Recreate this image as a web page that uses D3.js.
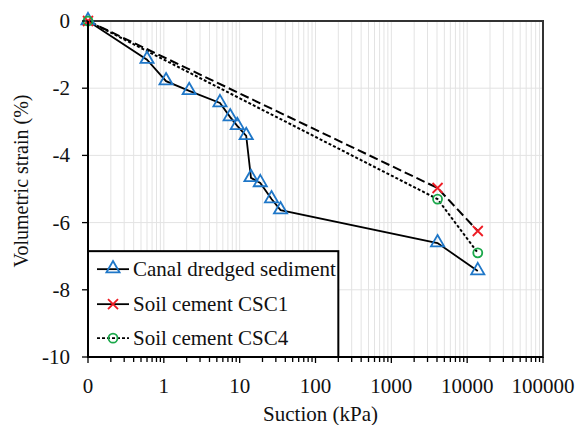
<!DOCTYPE html>
<meta charset="utf-8">
<script src="https://d3js.org/d3.v7.min.js"></script>
<body style="margin:0">
<script>

// suction (kPa); 0.1 stands for the "0" point on the log axis
var canalSuction = [0.1, 0.6, 1.07, 2.16, 5.5, 7.5, 9.3, 12.2, 14.1, 18.7, 26.3, 34.6, 4070, 13800];
var canalStrain  = [0, -1.15, -1.79, -2.08, -2.44, -2.86, -3.12, -3.42, -4.67, -4.82, -5.3, -5.63, -6.61, -7.44];

var csc1Suction = [0.1, 4070, 13800];
var csc1Strain  = [0, -4.97, -6.25];

var csc4Suction = [0.1, 4070, 13800];
var csc4Strain  = [0, -5.3, -6.9];

var xTicks = [0.1, 1, 10, 100, 1000, 10000, 100000];
var xTickLabels = ["0", "1", "10", "100", "1000", "10000", "100000"];
var yTicks = [0, -2, -4, -6, -8, -10];

var serif = "Times New Roman";

var margin = {top: 21, right: 35, bottom: 68, left: 88},
    width = 578 - margin.left - margin.right,
    height = 425 - margin.top - margin.bottom;

var root = d3.select("body")
  .append("svg")
    .attr("width", 578)
    .attr("height", 425);
var svg = root.append("g")
    .attr("transform", "translate(" + margin.left + "," + margin.top + ")");

var x = d3.scaleLog().domain([0.1, 100000]).range([0, width]);
var y = d3.scaleLinear().domain([-10, 0]).range([height, 0]);

// minor + major vertical gridlines
var minorTicks = [];
for (var e = -1; e < 5; e++) {
  for (var m = 1; m <= 9; m++) minorTicks.push(m * Math.pow(10, e));
}
minorTicks.push(100000);

svg.append("g").selectAll("line.vgrid")
  .data(minorTicks)
  .enter().append("line")
    .attr("x1", function(d) { return x(d); })
    .attr("x2", function(d) { return x(d); })
    .attr("y1", 0).attr("y2", height)
    .attr("stroke", "#e3e3e3")
    .attr("stroke-width", 1);

svg.append("g").selectAll("line.hgrid")
  .data(yTicks)
  .enter().append("line")
    .attr("x1", 0).attr("x2", width)
    .attr("y1", function(d) { return y(d); })
    .attr("y2", function(d) { return y(d); })
    .attr("stroke", "#e3e3e3")
    .attr("stroke-width", 1);

// plot frame
svg.append("rect")
  .attr("width", width).attr("height", height)
  .attr("fill", "none")
  .attr("stroke", "#333")
  .attr("stroke-width", 2);

// lines
var line = function(xs, ys) {
  return d3.line()
    .x(function(d) { return x(d[0]); })
    .y(function(d) { return y(d[1]); })(d3.zip(xs, ys));
};

svg.append("path")
  .attr("d", line(csc1Suction, csc1Strain))
  .attr("fill", "none").attr("stroke", "#000")
  .attr("stroke-width", 2)
  .attr("stroke-dasharray", "9,4");

svg.append("path")
  .attr("d", line(csc4Suction, csc4Strain))
  .attr("fill", "none").attr("stroke", "#000")
  .attr("stroke-width", 2)
  .attr("stroke-dasharray", "3,2");

svg.append("path")
  .attr("d", line(canalSuction, canalStrain))
  .attr("fill", "none").attr("stroke", "#000")
  .attr("stroke-width", 1.8);

// markers
var tri = d3.symbol().type(d3.symbolTriangle).size(75);

function triangles(g, xs, ys) {
  g.selectAll("path.tri")
    .data(d3.zip(xs, ys))
    .enter().append("path")
      .attr("transform", function(d) { return "translate(" + x(d[0]) + "," + (y(d[1]) - 0.5) + ")"; })
      .attr("d", tri)
      .attr("fill", "none")
      .attr("stroke", "#1f77c8")
      .attr("stroke-width", 1.8);
}
function crosses(g, xs, ys) {
  g.selectAll("path.cross")
    .data(d3.zip(xs, ys))
    .enter().append("path")
      .attr("transform", function(d) { return "translate(" + x(d[0]) + "," + y(d[1]) + ")"; })
      .attr("d", "M-5,-5L5,5M-5,5L5,-5")
      .attr("stroke", "#ee1c24")
      .attr("stroke-width", 1.8);
}
function circles(g, xs, ys) {
  g.selectAll("circle")
    .data(d3.zip(xs, ys))
    .enter().append("circle")
      .attr("cx", function(d) { return x(d[0]); })
      .attr("cy", function(d) { return y(d[1]); })
      .attr("r", 4.5)
      .attr("fill", "none")
      .attr("stroke", "#1aa84a")
      .attr("stroke-width", 1.8);
}

triangles(svg.append("g"), canalSuction, canalStrain);
crosses(svg.append("g"), csc1Suction, csc1Strain);
circles(svg.append("g"), csc4Suction, csc4Strain);

// legend box
var lg = svg.append("g").attr("transform", "translate(0," + y(-6.85) + ")");
var lgW = x(200), lgH = height - y(-6.85);
lg.append("rect")
  .attr("width", lgW).attr("height", lgH)
  .attr("fill", "#fff")
  .attr("stroke", "#000").attr("stroke-width", 2);

var legendNames = ["Canal dredged sediment", "Soil cement CSC1", "Soil cement CSC4"];
var legendY = [18, 53, 87];
legendNames.forEach(function(name, i) {
  var row = lg.append("g").attr("transform", "translate(0," + legendY[i] + ")");
  row.append("line")
    .attr("x1", 9).attr("x2", 41).attr("y1", 0).attr("y2", 0)
    .attr("stroke", "#000").attr("stroke-width", 1.8)
    .attr("stroke-dasharray", i === 2 ? "3,2" : null);
  if (i === 0) {
    row.append("path").attr("transform", "translate(25,-0.5)").attr("d", tri)
      .attr("fill", "none").attr("stroke", "#1f77c8").attr("stroke-width", 1.8);
  } else if (i === 1) {
    row.append("path").attr("transform", "translate(25,0)").attr("d", "M-5,-5L5,5M-5,5L5,-5")
      .attr("stroke", "#ee1c24").attr("stroke-width", 1.8);
  } else {
    row.append("circle").attr("cx", 25).attr("cy", 0).attr("r", 4.5)
      .attr("fill", "none").attr("stroke", "#1aa84a").attr("stroke-width", 1.8);
  }
  row.append("text")
    .attr("x", 45).attr("y", 7)
    .attr("font-family", serif)
    .attr("font-size", 21)
    .attr("fill", "#111")
    .text(name);
});

// X axis with minor ticks
var xAxis = svg.append("g").attr("transform", "translate(0," + height + ")");
xAxis.append("line").attr("x1", 0).attr("x2", width).attr("stroke", "#000").attr("stroke-width", 2);
xAxis.selectAll("line.minor")
  .data(minorTicks)
  .enter().append("line")
    .attr("x1", function(d) { return x(d); })
    .attr("x2", function(d) { return x(d); })
    .attr("y1", 0)
    .attr("y2", function(d) { return xTicks.indexOf(d) >= 0 ? 6 : 5; })
    .attr("stroke", "#000").attr("stroke-width", 1.3);
xAxis.selectAll("text.xl")
  .data(xTicks)
  .enter().append("text")
    .attr("x", function(d) { return x(d); })
    .attr("y", 36)
    .attr("text-anchor", "middle")
    .attr("font-family", serif)
    .attr("font-size", 21)
    .attr("fill", "#111")
    .text(function(d, i) { return xTickLabels[i]; });

// Y axis
var yAxis = svg.append("g");
yAxis.append("line").attr("y1", 0).attr("y2", height).attr("stroke", "#000").attr("stroke-width", 2);
yAxis.selectAll("line.tick")
  .data(yTicks)
  .enter().append("line")
    .attr("x1", -6).attr("x2", 0)
    .attr("y1", function(d) { return y(d); })
    .attr("y2", function(d) { return y(d); })
    .attr("stroke", "#000").attr("stroke-width", 1.3);
yAxis.selectAll("text.yl")
  .data(yTicks)
  .enter().append("text")
    .attr("x", -18)
    .attr("y", function(d) { return y(d) + 7; })
    .attr("text-anchor", "end")
    .attr("font-family", serif)
    .attr("font-size", 21)
    .attr("fill", "#111")
    .text(function(d) { return d; });

// axis titles
svg.append("text")
  .attr("x", width / 2 + 5)
  .attr("y", height + 64)
  .attr("text-anchor", "middle")
  .attr("font-family", serif)
  .attr("font-size", 21)
  .attr("fill", "#111")
  .text("Suction (kPa)");

svg.append("text")
  .attr("transform", "rotate(-90)")
  .attr("x", -(height / 2) + 8)
  .attr("y", -60)
  .attr("text-anchor", "middle")
  .attr("font-family", serif)
  .attr("font-size", 20)
  .attr("fill", "#111")
  .text("Volumetric strain (%)");

</script>
